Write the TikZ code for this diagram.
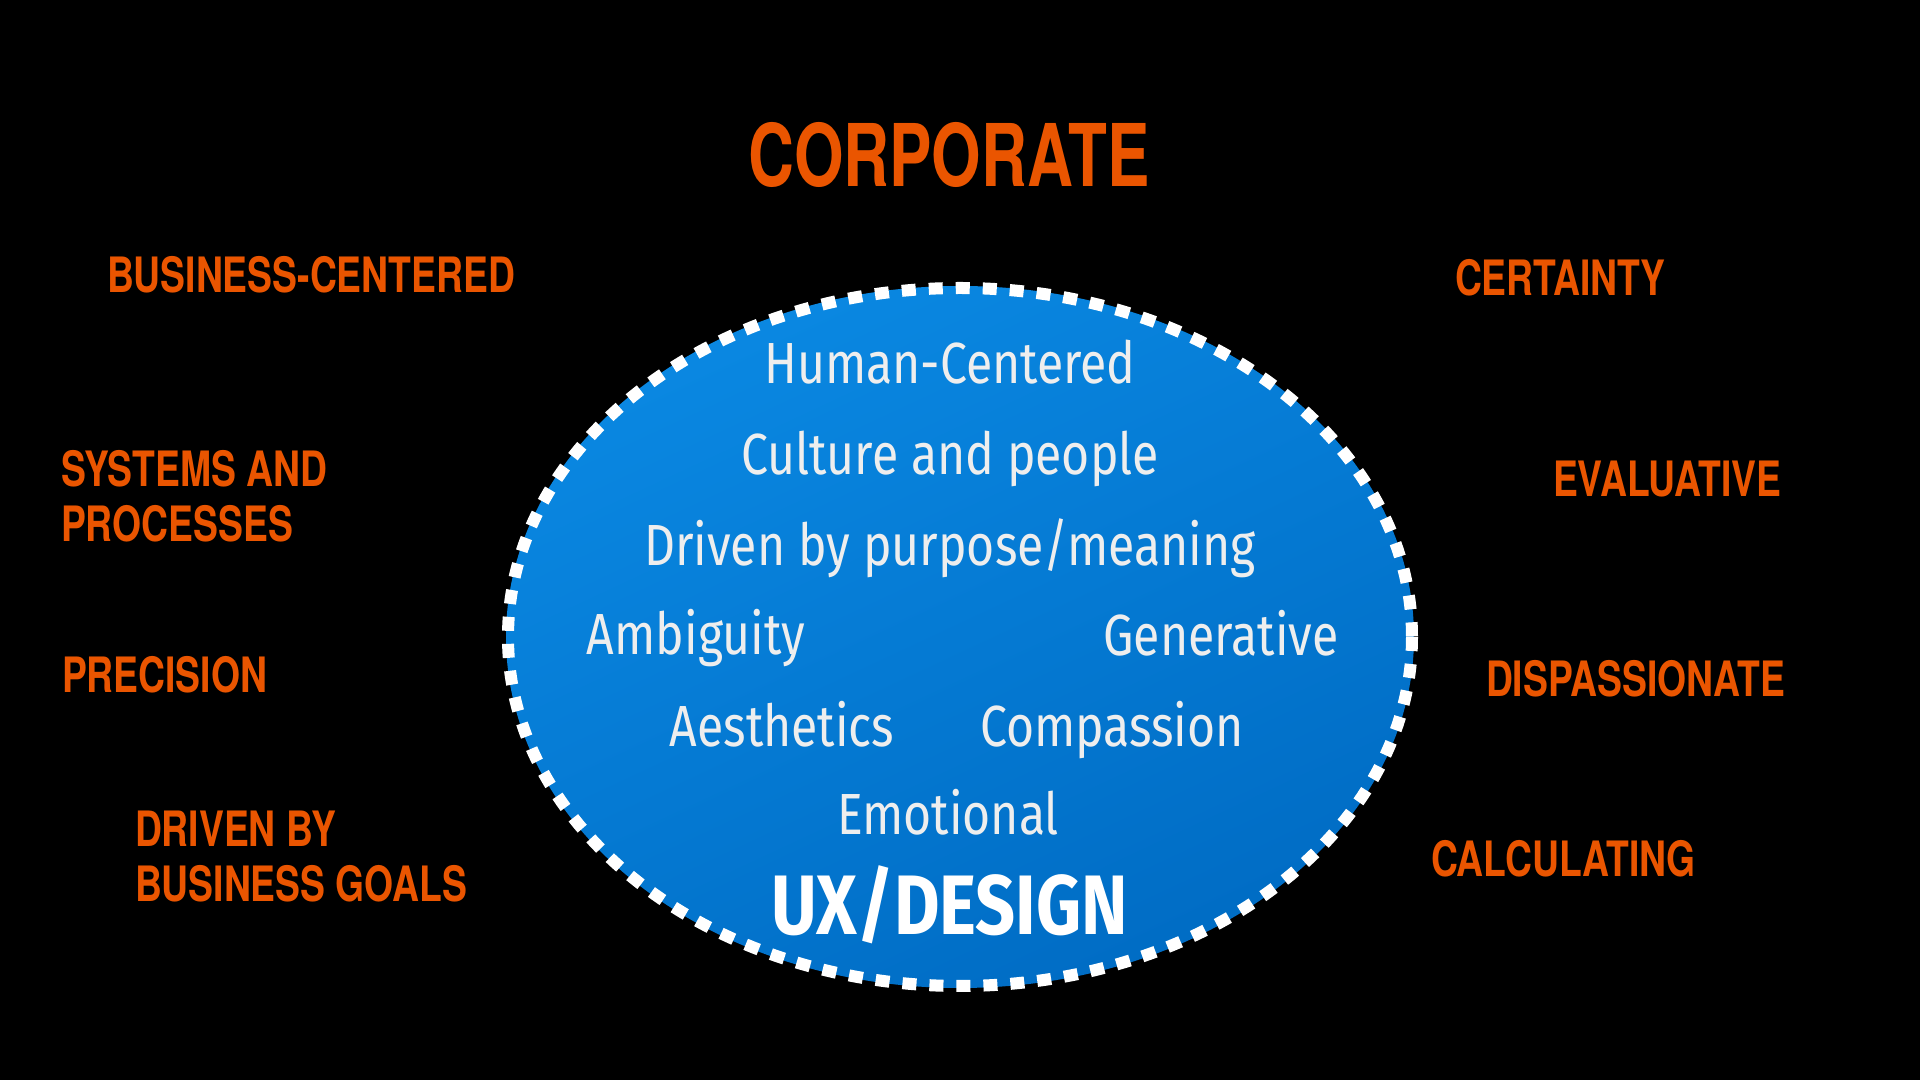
\documentclass[tikz,border=0pt]{standalone}
\usepackage{fontspec}
\newfontfamily\headfont[FakeStretch=0.765]{TeX Gyre Heros}
\newfontfamily\titlefont[FakeStretch=0.735]{TeX Gyre Heros}
\newfontfamily\handfont[FakeStretch=0.83]{Fira Sans}
\definecolor{corpor}{RGB}{234,85,0}
\definecolor{bluelt}{RGB}{10,136,226}
\definecolor{bluedk}{RGB}{0,108,196}
\definecolor{chalk}{RGB}{238,238,238}
\begin{document}
\begin{tikzpicture}[x=0.01cm,y=-0.01cm,
  side/.style={text=corpor, font=\headfont\bfseries\fontsize{13.86}{15.65}\selectfont,
    anchor=base west, inner sep=0pt, outer sep=0pt, align=left},
  hand/.style={text=chalk, font=\handfont\fontsize{16.5}{18}\selectfont,
    anchor=base, inner sep=0pt, outer sep=0pt},
  bigtitle/.style={text=corpor, font=\titlefont\bfseries\fontsize{24.6}{28}\selectfont,
    anchor=base, inner sep=0pt, outer sep=0pt}]
\fill[black] (0,0) rectangle (1920,1080);
\useasboundingbox (0,0) rectangle (1920,1080);

% blue ellipse with white dashed rim
\path[top color=bluelt, bottom color=bluedk, shading angle=25]
  (960,637) ellipse [x radius=454, y radius=351];
\draw[white, line width=0.12cm, dash pattern=on 0.14cm off 0.13cm]
  (960,637) ellipse [x radius=452, y radius=349];

% title
\node[bigtitle] (corporate) at (949,187) {CORPORATE};

% left labels (two-line nodes are placed by the baseline of their last line)
\node[side] (bizcentered) at (107,293) {BUSINESS-CENTERED};
\node[side] (systems) at (61,542) {SYSTEMS AND\\PROCESSES};
\node[side] (precision) at (62,693) {PRECISION};
\node[side] (bizgoals) at (135,902) {DRIVEN BY\\BUSINESS GOALS};

% right labels
\node[side] (certainty) at (1455,296) {CERTAINTY};
\node[side] (evaluative) at (1553,497) {EVALUATIVE};
\node[side] (dispassionate) at (1486,697) {DISPASSIONATE};
\node[side] (calculating) at (1431,877) {CALCULATING};

% inner texts
\node[hand] (human) at (950,384) {Human-Centered};
\node[hand] (culture) at (950,475) {Culture and people};
\node[hand] (purpose) at (950,566) {Driven by purpose/meaning};
\node[hand] (ambiguity) at (696,655) {Ambiguity};
\node[hand] (generative) at (1221,656) {Generative};
\node[hand] (aesthetics) at (782,747) {Aesthetics};
\node[hand] (compassion) at (1112,747) {Compassion};
\node[hand] (emotional) at (948,835) {Emotional};
\node[hand, text=white, font=\handfont\bfseries\fontsize{24}{28}\selectfont] (uxdesign) at (950,935) {UX/DESIGN};
\end{tikzpicture}
\end{document}
